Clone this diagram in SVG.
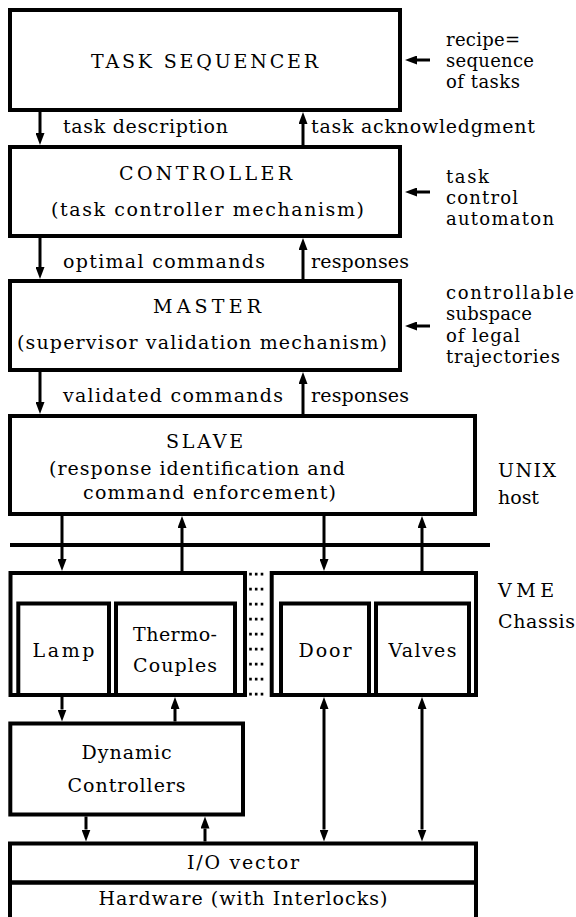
<svg xmlns="http://www.w3.org/2000/svg" width="576" height="917" viewBox="0 0 576 917">
<style>
  .box { fill: none; stroke: #000; stroke-width: 4; }
  .ln { fill: none; stroke: #000; stroke-width: 3; }
  .t { font-family: "DejaVu Serif", "Liberation Serif", serif; font-size: 19px; fill: #000; }
  .s { font-size: 18px; }
</style>
<defs>
  <marker id="ah" markerUnits="userSpaceOnUse" markerWidth="13" markerHeight="9" refX="0" refY="4.5" orient="auto-start-reverse" viewBox="0 0 13 9">
    <path d="M0,0 L12,4.5 L0,9 Z" fill="#000"/>
  </marker>
</defs>
<rect width="576" height="917" fill="#fff"/>

<g id="task-sequencer">
  <rect class="box" x="10" y="10" width="390" height="100"/>
  <text class="t" x="91" y="68" textLength="227" lengthAdjust="spacing">TASK SEQUENCER</text>
</g>
<g id="recipe-label">
  <text class="t s" x="446" y="46" textLength="74" lengthAdjust="spacing">recipe=</text>
  <text class="t s" x="446" y="67" textLength="88" lengthAdjust="spacing">sequence</text>
  <text class="t s" x="446" y="88" textLength="74" lengthAdjust="spacing">of tasks</text>
</g>

<g id="controller">
  <rect class="box" x="10" y="147" width="390" height="89"/>
  <text class="t" x="119" y="180" textLength="173" lengthAdjust="spacing">CONTROLLER</text>
  <text class="t" x="51" y="216" textLength="313" lengthAdjust="spacing">(task controller mechanism)</text>
</g>
<g id="automaton-label">
  <text class="t s" x="446" y="183" textLength="43" lengthAdjust="spacing">task</text>
  <text class="t s" x="446" y="204" textLength="72" lengthAdjust="spacing">control</text>
  <text class="t s" x="446" y="225" textLength="108" lengthAdjust="spacing">automaton</text>
</g>

<g id="master">
  <rect class="box" x="10" y="281" width="390" height="89"/>
  <text class="t" x="153" y="313" textLength="108" lengthAdjust="spacing">MASTER</text>
  <text class="t" x="17" y="349" textLength="370" lengthAdjust="spacing">(supervisor validation mechanism)</text>
</g>
<g id="subspace-label">
  <text class="t s" x="446" y="299" textLength="128" lengthAdjust="spacing">controllable</text>
  <text class="t s" x="446" y="320" textLength="86" lengthAdjust="spacing">subspace</text>
  <text class="t s" x="446" y="342" textLength="74" lengthAdjust="spacing">of legal</text>
  <text class="t s" x="446" y="363" textLength="114" lengthAdjust="spacing">trajectories</text>
</g>

<g id="slave">
  <rect class="box" x="10" y="416" width="465" height="98"/>
  <text class="t" x="166" y="448" textLength="77" lengthAdjust="spacing">SLAVE</text>
  <text class="t" x="49" y="475" textLength="296" lengthAdjust="spacing">(response identification and</text>
  <text class="t" x="83" y="499" textLength="253" lengthAdjust="spacing">command enforcement)</text>
</g>
<g id="unix-host-label">
  <text class="t" x="498" y="477" textLength="58" lengthAdjust="spacing">UNIX</text>
  <text class="t" x="498" y="504" textLength="41" lengthAdjust="spacing">host</text>
</g>

<g id="bus">
  <line x1="10" y1="545" x2="490" y2="545" stroke="#000" stroke-width="4"/>
</g>

<g id="chassis-left">
  <rect class="box" x="10.5" y="573" width="234.5" height="122"/>
</g>
<g id="lamp">
  <rect class="box" x="18.3" y="603.5" width="90.7" height="91.5"/>
  <text class="t" x="32.5" y="657" textLength="62" lengthAdjust="spacing">Lamp</text>
</g>
<g id="thermocouples">
  <rect class="box" x="116" y="603.5" width="119" height="91.5"/>
  <text class="t" x="133" y="641" textLength="84" lengthAdjust="spacing">Thermo-</text>
  <text class="t" x="133" y="672" textLength="84" lengthAdjust="spacing">Couples</text>
</g>
<g id="chassis-gap">
  <line x1="250.5" y1="572.7" x2="250.5" y2="697" stroke="#000" stroke-width="2.6" stroke-dasharray="2.7 12.3"/>
  <line x1="256.2" y1="572.7" x2="256.2" y2="697" stroke="#000" stroke-width="2.6" stroke-dasharray="2.7 12.3"/>
  <line x1="262" y1="572.7" x2="262" y2="697" stroke="#000" stroke-width="2.6" stroke-dasharray="2.7 12.3"/>
</g>
<g id="chassis-right">
  <rect class="box" x="271.7" y="573" width="204.3" height="122"/>
</g>
<g id="door">
  <rect class="box" x="281" y="603.5" width="88" height="91.5"/>
  <text class="t" x="298.5" y="657" textLength="53" lengthAdjust="spacing">Door</text>
</g>
<g id="valves">
  <rect class="box" x="376" y="603.5" width="93" height="91.5"/>
  <text class="t" x="388.5" y="657" textLength="68" lengthAdjust="spacing">Valves</text>
</g>
<g id="vme-label">
  <text class="t" x="498" y="597" textLength="56" lengthAdjust="spacing">VME</text>
  <text class="t" x="498" y="628" textLength="77" lengthAdjust="spacing">Chassis</text>
</g>

<g id="dynamic-controllers">
  <rect class="box" x="10.3" y="723.5" width="232.7" height="91"/>
  <text class="t" x="81.6" y="759" textLength="90" lengthAdjust="spacing">Dynamic</text>
  <text class="t" x="67.6" y="792" textLength="118" lengthAdjust="spacing">Controllers</text>
</g>

<g id="io-vector">
  <rect class="box" x="10" y="843.5" width="466" height="39"/>
  <text class="t" x="187" y="869" textLength="112" lengthAdjust="spacing">I/O vector</text>
</g>
<g id="hardware">
  <rect class="box" x="10" y="882.5" width="466" height="60"/>
  <text class="t" x="98.5" y="905" textLength="289" lengthAdjust="spacing">Hardware (with Interlocks)</text>
</g>

<g id="connectors">
  <line class="ln" x1="40" y1="112" x2="40" y2="133" marker-end="url(#ah)"/>
  <line class="ln" x1="303" y1="145" x2="303" y2="124" marker-end="url(#ah)"/>
  <line class="ln" x1="40" y1="238" x2="40" y2="267" marker-end="url(#ah)"/>
  <line class="ln" x1="303" y1="279" x2="303" y2="250" marker-end="url(#ah)"/>
  <line class="ln" x1="40" y1="372" x2="40" y2="402" marker-end="url(#ah)"/>
  <line class="ln" x1="303" y1="414" x2="303" y2="384" marker-end="url(#ah)"/>
  <text class="t" x="63" y="133" textLength="165" lengthAdjust="spacing">task description</text>
  <text class="t" x="311" y="133" textLength="224" lengthAdjust="spacing">task acknowledgment</text>
  <text class="t" x="63" y="268" textLength="202" lengthAdjust="spacing">optimal commands</text>
  <text class="t" x="311" y="268" textLength="98" lengthAdjust="spacing">responses</text>
  <text class="t" x="63" y="402" textLength="220" lengthAdjust="spacing">validated commands</text>
  <text class="t" x="311" y="402" textLength="98" lengthAdjust="spacing">responses</text>

  <line class="ln" x1="430" y1="60" x2="417" y2="60" marker-end="url(#ah)"/>
  <line class="ln" x1="430" y1="192" x2="417" y2="192" marker-end="url(#ah)"/>
  <line class="ln" x1="430" y1="326" x2="417" y2="326" marker-end="url(#ah)"/>

  <line class="ln" x1="62" y1="516" x2="62" y2="559" marker-end="url(#ah)"/>
  <line class="ln" x1="182" y1="571" x2="182" y2="528" marker-end="url(#ah)"/>
  <line class="ln" x1="324" y1="516" x2="324" y2="559" marker-end="url(#ah)"/>
  <line class="ln" x1="422" y1="571" x2="422" y2="528" marker-end="url(#ah)"/>

  <line class="ln" x1="62" y1="697" x2="62" y2="709.5" marker-end="url(#ah)"/>
  <line class="ln" x1="175" y1="721.5" x2="175" y2="709" marker-end="url(#ah)"/>
  <line class="ln" x1="86" y1="816.5" x2="86" y2="829.5" marker-end="url(#ah)"/>
  <line class="ln" x1="205" y1="841.5" x2="205" y2="828.5" marker-end="url(#ah)"/>
  <line class="ln" x1="324" y1="709" x2="324" y2="829.5" marker-start="url(#ah)" marker-end="url(#ah)"/>
  <line class="ln" x1="422" y1="709" x2="422" y2="829.5" marker-start="url(#ah)" marker-end="url(#ah)"/>
</g>
</svg>
